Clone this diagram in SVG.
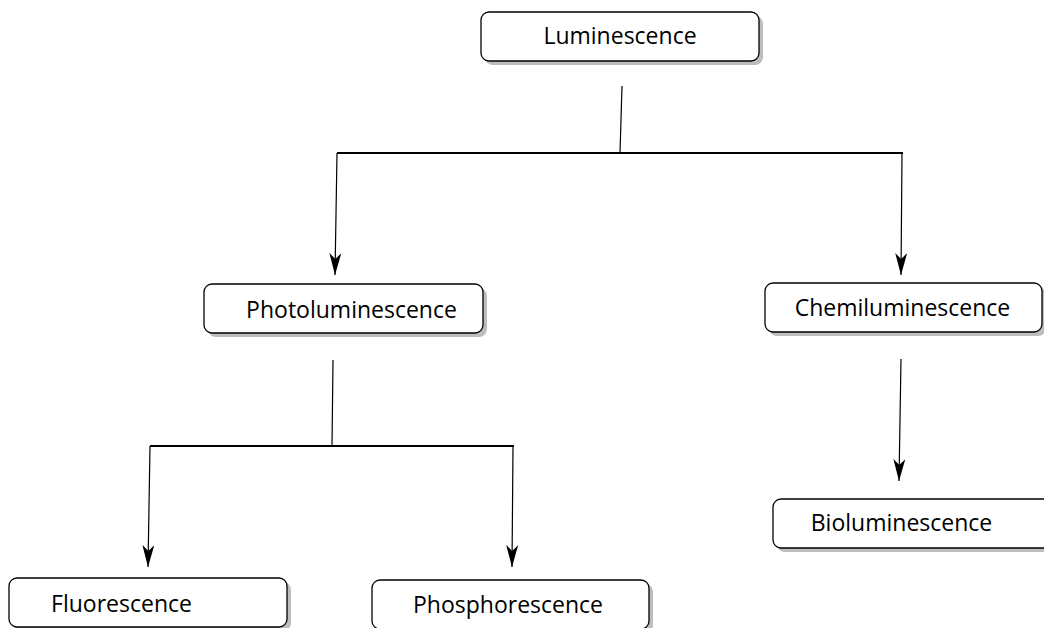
<svg xmlns="http://www.w3.org/2000/svg" width="1044" height="628" viewBox="0 0 1044 628">
<defs>
<style>
.shadow{fill:#bdbdbd;stroke:none}
.box{fill:#fff;stroke:#000;stroke-width:1.3}
.lbl{font-family:"Open Sans","Noto Sans",sans-serif;font-size:23px;fill:#000;text-anchor:middle}
.bar{stroke:#000;stroke-width:2;fill:none}
.ln{stroke:#000;stroke-width:1.2;fill:none}
</style>
<marker id="arr" viewBox="0 0 22 12" refX="22" refY="6" markerWidth="22" markerHeight="12" markerUnits="userSpaceOnUse" orient="auto">
<path d="M0,0 L22,6 L0,12 L6,6 Z" fill="#000"/>
</marker>
</defs>
<rect width="1044" height="628" fill="#fff"/>
<g id="connectors">
<line class="ln" x1="622" y1="86" x2="620" y2="153"/>
<line class="bar" x1="337" y1="153" x2="903" y2="153"/>
<line class="ln" x1="337" y1="153" x2="335" y2="275" marker-end="url(#arr)"/>
<line class="ln" x1="902" y1="153" x2="901" y2="275" marker-end="url(#arr)"/>
<line class="ln" x1="333" y1="360" x2="332" y2="446"/>
<line class="bar" x1="150" y1="446" x2="514" y2="446"/>
<line class="ln" x1="150" y1="446" x2="148" y2="567" marker-end="url(#arr)"/>
<line class="ln" x1="513" y1="446" x2="512" y2="567" marker-end="url(#arr)"/>
<line class="ln" x1="901" y1="359" x2="899" y2="481" marker-end="url(#arr)"/>
</g>
<g id="n-luminescence">
<rect class="shadow" x="485" y="16" width="278" height="49" rx="8"/>
<rect class="box" x="481" y="12" width="278" height="49" rx="8"/>
<text class="lbl" x="620" y="44">Luminescence</text>
</g>
<g id="n-photoluminescence">
<rect class="shadow" x="208" y="288" width="279" height="49" rx="8"/>
<rect class="box" x="204" y="284" width="279" height="49" rx="8"/>
<text class="lbl" x="351.5" y="318">Photoluminescence</text>
</g>
<g id="n-chemiluminescence">
<rect class="shadow" x="769" y="287" width="277" height="49" rx="8"/>
<rect class="box" x="765" y="283" width="277" height="49" rx="8"/>
<text class="lbl" x="902.5" y="316">Chemiluminescence</text>
</g>
<g id="n-bioluminescence">
<rect class="shadow" x="777" y="503" width="290" height="49" rx="8"/>
<rect class="box" x="773" y="499" width="290" height="49" rx="8"/>
<text class="lbl" x="901.5" y="531">Bioluminescence</text>
</g>
<g id="n-fluorescence">
<rect class="shadow" x="13" y="582" width="278" height="49" rx="8"/>
<rect class="box" x="9" y="578" width="278" height="49" rx="8"/>
<text class="lbl" x="121.5" y="612">Fluorescence</text>
</g>
<g id="n-phosphorescence">
<rect class="shadow" x="376" y="584" width="277" height="49" rx="8"/>
<rect class="box" x="372" y="580" width="277" height="49" rx="8"/>
<text class="lbl" x="508" y="613">Phosphorescence</text>
</g>
</svg>
